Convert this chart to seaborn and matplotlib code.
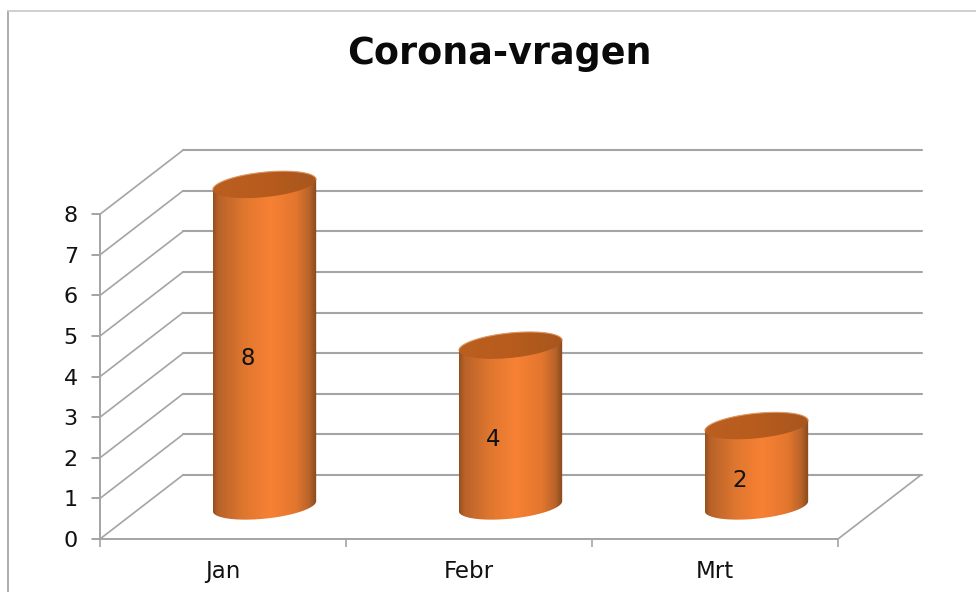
import numpy as np
import pandas as pd
import matplotlib
matplotlib.use("Agg")
import matplotlib.pyplot as plt
import seaborn as sns
from matplotlib.colors import LinearSegmentedColormap
from matplotlib.lines import Line2D
from matplotlib.patches import Polygon

months = ["Jan", "Febr", "Mrt"]
values = [8, 4, 2]
y_ticks = [0, 1, 2, 3, 4, 5, 6, 7, 8]

W, H = 976, 592
X0, Y0 = 100, 539     # pixel of the axis origin
PX_X = 246.0          # pixels per category
PX_Y = 40.6           # pixels per value
RIGHT, TOP = 922, 150

# fake 3D depth, in data units
DX = 83 / PX_X
DY = 64 / PX_Y
GRID = "#a4a4a4"
TXT = "#111111"
FONT = "DejaVu Sans"

body_cmap = LinearSegmentedColormap.from_list("body", [
    (0.00, "#94501f"), (0.05, "#b8622a"), (0.30, "#e0772f"), (0.55, "#f78134"),
    (0.80, "#e3762e"), (0.93, "#b8632a"), (1.00, "#84491b")])
cap_cmap = LinearSegmentedColormap.from_list("cap", ["#bb5f20", "#b75c1d", "#a8561d"])

sns.set_theme(style="ticks")
plt.rcParams["font.family"] = [FONT]

fig = plt.figure(figsize=(W / 100, H / 100), dpi=100, facecolor="white")
ax = fig.add_axes([X0 / W, (H - Y0) / H, (RIGHT - X0) / W, (Y0 - TOP) / H])
ax.patch.set_alpha(0)

df = pd.DataFrame({"month": months, "value": values})
sns.barplot(data=df, x="month", y="value", ax=ax, width=0.42, color="#e2772f", zorder=3)

x_max = -0.5 + (RIGHT - X0) / PX_X
y_max = (Y0 - TOP) / PX_Y
n = len(months)

# back wall grid and side wall diagonals, plus the small tick left of the axis
for t in y_ticks:
    ax.plot([-0.5 + DX, x_max], [t + DY, t + DY], color=GRID, lw=1.5, zorder=1, clip_on=False)
    ax.plot([-0.5, -0.5 + DX], [t, t + DY], color=GRID, lw=1.2, zorder=1, clip_on=False)
    ax.plot([-0.5 - 8 / PX_X, -0.5], [t, t], color=GRID, lw=1.2, zorder=1, clip_on=False)
# right edge of the floor
ax.plot([n - 0.5, n - 0.5 + DX], [0, DY], color=GRID, lw=1.2, zorder=1, clip_on=False)

# turn the flat seaborn bars into cylinders
A_TILT = 5 / PX_Y     # ellipse tilt
B_ELL = 12.5 / PX_Y   # ellipse half height
tt = np.linspace(0, 2 * np.pi, 121)
for i, bar in enumerate(list(ax.patches)):
    bar.set_visible(False)
    left = bar.get_x() + DX / 2
    width = bar.get_width()
    mid = left + width / 2
    base = DY / 2 + 0.02
    top = base + bar.get_height() * 0.99

    ex = mid + width / 2 * np.cos(tt)
    ey = B_ELL * np.sin(tt) + A_TILT * np.cos(tt)

    # body outline: upper half of the top ellipse, lower half of the bottom one
    upper = tt <= np.pi
    lower = tt >= np.pi
    outline = np.vstack([
        np.column_stack([ex[upper], top + ey[upper]]),
        np.column_stack([ex[lower], base + ey[lower]]),
    ])
    body = Polygon(outline, closed=True, facecolor="none", edgecolor="none", transform=ax.transData)
    ax.add_patch(body)
    im = ax.imshow(np.linspace(0, 1, 256)[None, :], cmap=body_cmap, aspect="auto", zorder=3,
                   extent=[left, left + width, base - 1, top + 1])
    im.set_clip_path(body)

    cap = Polygon(np.column_stack([ex, top + ey]), closed=True, facecolor="none", edgecolor="none",
                  transform=ax.transData)
    ax.add_patch(cap)
    im2 = ax.imshow(np.linspace(0, 1, 64)[None, :], cmap=cap_cmap, aspect="auto", zorder=4,
                    extent=[left, left + width, top - 1, top + 1])
    im2.set_clip_path(cap)
    # lighter soft rim on the far side of the cap
    ax.plot(ex[upper], top + ey[upper], color="#dc9a68", lw=0.8, zorder=5)

    # value label
    ax.text(i + 0.1, values[i] / 2 + 0.44, str(values[i]), ha="center", va="center",
            fontsize=16.5, color=TXT, zorder=6, family=FONT)

ax.set_xlim(-0.5, x_max)
ax.set_ylim(0, y_max)
ax.set_xlabel("")
ax.set_ylabel("")

for s in ["top", "right"]:
    ax.spines[s].set_visible(False)
ax.spines["left"].set_bounds(0, y_ticks[-1])
ax.spines["bottom"].set_bounds(-0.5, n - 0.5)
for s in ["left", "bottom"]:
    ax.spines[s].set_color(GRID)
    ax.spines[s].set_linewidth(1.4)

ax.set_yticks(y_ticks)
ax.set_yticklabels([str(t) for t in y_ticks], family=FONT)
ax.tick_params(axis="y", which="major", length=6, width=1.3, color=GRID, pad=10, labelsize=16, labelcolor=TXT)
ax.set_xticks(range(n))
ax.set_xticklabels(months, family=FONT)
ax.set_xticks(np.arange(n + 1) - 0.5, minor=True)
ax.tick_params(axis="x", which="major", length=0, pad=15, labelsize=16.5, labelcolor=TXT)
ax.tick_params(axis="x", which="minor", bottom=True, length=6, width=1.2, color=GRID)

fig.text(499 / W, 1 - 53 / H, "Corona-vragen", ha="center", va="center",
         fontsize=26.3, fontweight="bold", color="#0a0a0a", family=FONT)

# outer chart frame, cut off by the crop at right and bottom
fig.add_artist(Line2D([8 / W, 8 / W], [0, 1 - 11 / H], color="#a6a6a6", lw=1.3))
fig.add_artist(Line2D([8 / W, 1], [1 - 11 / H, 1 - 11 / H], color="#cccccc", lw=1.3))

fig.savefig("out.png", dpi=100)
